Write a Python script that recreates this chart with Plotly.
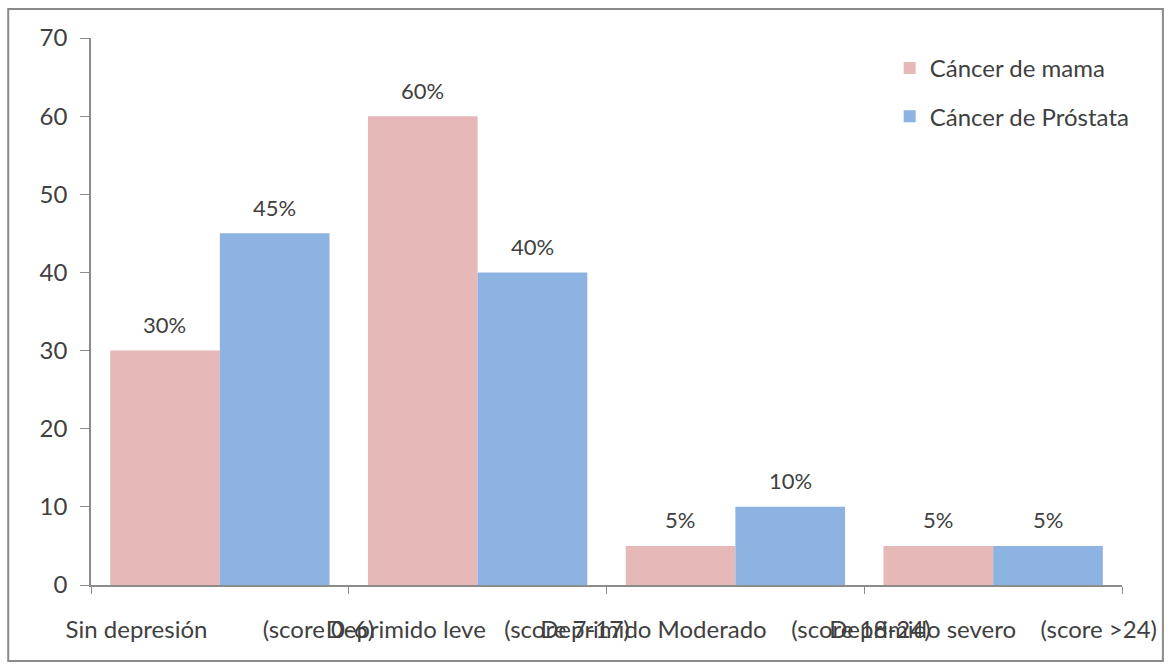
import plotly.graph_objects as go

# ---- data ----
categories = ["Sin depresión", "Deprimido leve", "Deprimido Moderado", "Deprimido severo"]
scores = ["(score 0-6)", "(score 7-17)", "(score 18-24)", "(score >24)"]
label_gaps = [8, 2, 3, 3]  # number of extra no-break spaces between the two parts
series_names = ["Cáncer de mama", "Cáncer de Próstata"]
mama = [30, 60, 5, 5]
prostata = [45, 40, 10, 5]
y_ticks = [0, 10, 20, 30, 40, 50, 60, 70]

# ---- style ----
W, H = 1169, 667
ML, MR, MT, MB = 91, 44, 38, 82
FONT = "Lato"
TXT = "#404040"
AXC = "#8c8c8c"
colors = ["#E6B9B8", "#8DB3E2"]
BARGAP = 0.149
FS = 24
FS_LBL = 22

ticktext = [c + " " + "\u00a0" * g + s for c, s, g in zip(categories, scores, label_gaps)]

fig = go.Figure()
for name, vals, col in zip(series_names, [mama, prostata], colors):
    fig.add_trace(go.Bar(
        x=categories, y=vals, name=name, marker_color=col,
        marker_line_width=0, legendgroup=name,
    ))

# data labels
plot_w = W - ML - MR
catw = plot_w / len(categories)
barw = catw * (1 - BARGAP) / 2
annotations = []
for k, vals in enumerate([mama, prostata]):
    shift = (k - 0.5) * barw
    for c, v in zip(categories, vals):
        annotations.append(dict(
            x=c, y=v, text=f"{v}%", showarrow=False, xshift=shift,
            yanchor="middle", yshift=26,
            font=dict(family=FONT, size=FS_LBL, color=TXT),
        ))

plot_h = H - MT - MB
def px_to_paper_x(px):
    return (px - ML) / plot_w
def px_to_paper_y(py):
    return (H - MB - py) / plot_h

fig.update_layout(
    width=W, height=H,
    margin=dict(l=ML, r=MR, t=MT, b=MB),
    paper_bgcolor="white", plot_bgcolor="white",
    font=dict(family=FONT, size=FS, color=TXT),
    barmode="group", bargap=BARGAP, bargroupgap=0,
    showlegend=True,
    legend=dict(
        x=px_to_paper_x(892), y=px_to_paper_y(46), xanchor="left", yanchor="top",
        font=dict(family=FONT, size=FS, color=TXT),
        traceorder="grouped", tracegroupgap=14, bgcolor="rgba(0,0,0,0)",
    ),
    xaxis=dict(
        type="category", tickmode="array", tickvals=categories, ticktext=ticktext,
        tickangle=0, showline=True, linecolor=AXC, linewidth=1.5,
        ticks="outside", tickson="boundaries", ticklen=7, tickcolor=AXC,
        ticklabelstandoff=22,
        showgrid=False, zeroline=False,
        tickfont=dict(family=FONT, size=FS, color=TXT),
    ),
    yaxis=dict(
        range=[0, 70], tickmode="array", tickvals=y_ticks,
        showline=True, linecolor=AXC, linewidth=1.5,
        ticks="outside", ticklen=9, tickcolor=AXC,
        ticklabelstandoff=8,
        showgrid=False, zeroline=False,
        tickfont=dict(family=FONT, size=FS, color=TXT),
    ),
    annotations=annotations,
    shapes=[dict(
        type="rect", xref="paper", yref="paper",
        x0=px_to_paper_x(8), x1=px_to_paper_x(1166),
        y0=px_to_paper_y(661), y1=px_to_paper_y(9),
        line=dict(color="#8a8a8a", width=2), fillcolor="rgba(0,0,0,0)", layer="below",
    )],
)

fig.write_html("out.html")
